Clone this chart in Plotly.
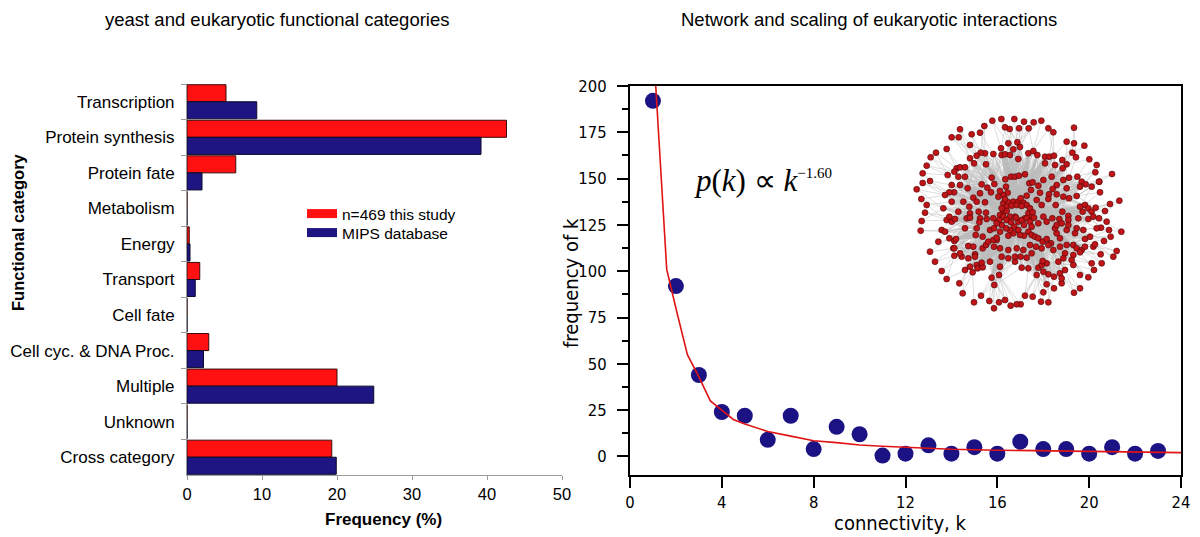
import math
import plotly.graph_objects as go

# ---- left panel: functional categories ----
categories = ["Transcription", "Protein synthesis", "Protein fate", "Metabolism", "Energy",
              "Transport", "Cell fate", "Cell cyc. & DNA Proc.", "Multiple", "Unknown",
              "Cross category"]
this_study = [5.2, 42.6, 6.5, 0, 0.3, 1.7, 0, 2.9, 20.0, 0, 19.3]
mips_db = [9.3, 39.2, 2.0, 0, 0.4, 1.1, 0, 2.2, 24.9, 0, 19.9]

# ---- right panel: degree distribution ----
k_vals = list(range(1, 24))
k_freq = [192, 92, 44, 24, 22, 9, 22, 4, 16, 12, 0.5, 1.5, 6, 1.5, 5, 1.5, 8, 4, 4, 1.5, 5, 1.5, 3]
fit_k = [1.0, 1.6, 2.0, 2.5, 3.0, 3.5, 4.0, 4.5, 5.0, 6.0, 7.0, 8.0, 9.0, 10.0, 11.0, 12.0,
         13.0, 14.0, 16.0, 18.0, 20.0, 22.0, 24.0]
fit_v = [225, 101, 80, 55, 43, 30, 25, 20, 17.5, 13.5, 11, 8.5, 7.5, 6.2, 5.5, 5.0,
         4.2, 3.9, 3.4, 3.0, 2.7, 2.4, 2.1]

# network inset, node positions (upper and lower half)
net_top = [
    (277, 47), (304, 42), (343, 42), (372, 50), (401, 52), (424, 47), (445, 70), (460, 82), (522, 68),
    (315, 67), (329, 72), (357, 70), (386, 70), (253, 63), (240, 83), (215, 88), (180, 73), (155, 97),
    (176, 97), (210, 120), (140, 132), (108, 143), (92, 157), (80, 182), (68, 205), (68, 234), (50, 253),
    (90, 228), (64, 282), (80, 300), (75, 323), (500, 110), (522, 115), (553, 122), (517, 143), (528, 157),
    (568, 163), (590, 180), (586, 202), (636, 207), (598, 230), (658, 287), (630, 297), (600, 262),
    (615, 318), (325, 115), (352, 112), (360, 126), (340, 133), (303, 130), (280, 147), (255, 145),
    (242, 143), (230, 152), (210, 160), (222, 175), (258, 178), (305, 150), (315, 148), (330, 150),
    (355, 162), (385, 145), (400, 138), (412, 150), (435, 155), (448, 155), (462, 152), (435, 175),
    (465, 180), (487, 165), (500, 178), (488, 190), (170, 190), (180, 187), (195, 187), (163, 200),
    (175, 215), (143, 210), (195, 215), (180, 240), (155, 240), (162, 262), (203, 250), (245, 238),
    (262, 248), (240, 265), (273, 262), (283, 237), (275, 218), (316, 223), (333, 215), (345, 215),
    (357, 212), (375, 208), (318, 245), (323, 263), (310, 270), (300, 258), (295, 275), (388, 235),
    (398, 232), (415, 242), (430, 225), (455, 215), (490, 225), (507, 218), (532, 215), (545, 230),
    (557, 238), (540, 245), (575, 245), (597, 230), (470, 240), (458, 252), (447, 268), (470, 268),
    (490, 275), (507, 280), (530, 273), (500, 250), (393, 255), (380, 272), (420, 263), (410, 285),
    (425, 300), (445, 282), (220, 278), (230, 290), (255, 292), (208, 305), (190, 290), (175, 320),
    (148, 262), (155, 290), (135, 270), (130, 310), (258, 323), (236, 320), (210, 325), (467, 300),
    (487, 320), (505, 333), (540, 305), (555, 300), (565, 310), (548, 320), (575, 320), (587, 308),
    (310, 295), (325, 292), (340, 290), (355, 290), (370, 293), (380, 300), (390, 310), (320, 305),
    (335, 302), (350, 300), (365, 303), (310, 320), (320, 318), (300, 330), (385, 325), (395, 335),
    (330, 335), (345, 335), (375, 340), (315, 282), (362, 280), (398, 322), (305, 310),
]
net_bottom = [
    (310, 5), (320, 15), (333, 22), (343, 35), (355, 45), (355, 20), (365, 15), (380, 10), (390, 20),
    (395, 35), (385, 50), (372, 62), (360, 60), (340, 55), (330, 45), (318, 40), (305, 30), (298, 15),
    (300, 50), (290, 75), (372, 30), (348, 8), (402, 8), (395, 60), (325, 62),
    (65, 18), (62, 47), (140, 15), (155, 20), (148, 5), (165, 12), (200, 10), (210, 8), (240, 10),
    (260, 12), (280, 10), (430, 5), (440, 20), (457, 10), (478, 12), (505, 15), (535, 10), (565, 12),
    (580, 5), (597, 10), (620, 20), (603, 38), (627, 45), (664, 50), (632, 65), (612, 78), (650, 108),
    (640, 125), (602, 118), (605, 145), (575, 145), (582, 165), (565, 187), (540, 180), (540, 220),
    (522, 233), (485, 205), (462, 220), (440, 208), (430, 232), (445, 262), (423, 260), (398, 245),
    (375, 242), (362, 268), (350, 268), (332, 272), (315, 255), (297, 262), (282, 280), (268, 258),
    (243, 242), (222, 262), (188, 235), (178, 205), (140, 192), (125, 168), (105, 140), (90, 110),
    (115, 80), (125, 45), (135, 50), (148, 70), (163, 78), (168, 72), (160, 100), (163, 122),
    (185, 125), (195, 165), (210, 155), (218, 172), (230, 150), (233, 160), (248, 157), (275, 188),
    (283, 210), (297, 180), (300, 155), (270, 140), (245, 143), (225, 118), (205, 93), (220, 95),
    (248, 100), (258, 90), (265, 80), (280, 75), (282, 95), (290, 68), (248, 65), (227, 60), (195, 40),
    (230, 40), (238, 22), (270, 45), (282, 40), (290, 25), (405, 65), (415, 70), (428, 80), (440, 72),
    (425, 100), (460, 105), (480, 95), (500, 90), (520, 90), (530, 100), (545, 105), (555, 95),
    (540, 112), (520, 120), (515, 135), (520, 150), (495, 165), (480, 175), (485, 190), (462, 185),
    (445, 178), (430, 170), (415, 158), (410, 180), (385, 160), (365, 158), (345, 140), (325, 130),
    (345, 125), (362, 125), (380, 128), (395, 115), (370, 105), (350, 100), (325, 105), (305, 125),
    (300, 100), (225, 125), (205, 130), (180, 115), (163, 100), (475, 140), (495, 115), (490, 130),
    (440, 145), (425, 150), (428, 138), (408, 95), (390, 90), (580, 95), (585, 88), (555, 72),
    (570, 65), (525, 55), (500, 45), (470, 55), (480, 70), (453, 85), (445, 90), (465, 40), (505, 30),
    (530, 40), (550, 45), (590, 40), (415, 25), (470, 30), (485, 25),
]
net_nodes = net_top + [(x, y + 330) for x, y in net_bottom]

RED = "#ff1111"
BLUE = "#1e1582"
DOT = "#1b1284"
FIT = "#e01414"

# the page body adds an 8px margin, so the figure is 8px smaller and positions are shifted
W, H, OFF = 1192, 529, 8


def px(x):
    return (x - OFF) / W


def py(y):
    return 1 - (y - OFF) / H


fig = go.Figure()

# bars
fig.add_trace(go.Bar(y=categories, x=this_study, orientation="h", marker_color=RED,
                     marker_line=dict(color="#3a0a0a", width=1), showlegend=False,
                     xaxis="x", yaxis="y"))
fig.add_trace(go.Bar(y=categories, x=mips_db, orientation="h", marker_color=BLUE,
                     marker_line=dict(color="#0a0a2a", width=1), showlegend=False,
                     xaxis="x", yaxis="y"))
# legend swatches (one legend per entry, to keep the reference's tight spacing)
fig.add_trace(go.Scatter(x=[None], y=[None], mode="lines", name="n=469 this study",
                         line=dict(color=RED, width=9), xaxis="x", yaxis="y", legend="legend"))
fig.add_trace(go.Scatter(x=[None], y=[None], mode="lines", name="MIPS database",
                         line=dict(color=BLUE, width=9), xaxis="x", yaxis="y", legend="legend2"))

# network edges: each node linked to its nearest neighbours lying closer to the centre
cx, cy = 355, 335
radius = [math.hypot(x - cx, y - cy) for x, y in net_nodes]
ex, ey = [], []
for i, (xi, yi) in enumerate(net_nodes):
    cand = [j for j in range(len(net_nodes)) if radius[j] < 0.8 * radius[i]]
    cand.sort(key=lambda j: (net_nodes[j][0] - xi) ** 2 + (net_nodes[j][1] - yi) ** 2)
    n_links = 2 if radius[i] > 230 else 6
    for j in cand[:n_links]:
        ex += [xi, net_nodes[j][0], None]
        ey += [yi, net_nodes[j][1], None]
    # a few long chords through the middle
    if radius[i] < 230:
        far = sorted(range(len(net_nodes)), key=lambda j: -((net_nodes[j][0] - xi) ** 2 + (net_nodes[j][1] - yi) ** 2))
        for j in [f for f in far if radius[f] < 200][:3]:
            ex += [xi, net_nodes[j][0], None]
            ey += [yi, net_nodes[j][1], None]
fig.add_trace(go.Scatter(x=ex, y=ey, mode="lines", line=dict(color="#bcbcbc", width=0.5),
                         hoverinfo="skip", showlegend=False, xaxis="x3", yaxis="y3"))
fig.add_trace(go.Scatter(x=[p[0] for p in net_nodes], y=[p[1] for p in net_nodes], mode="markers",
                         marker=dict(size=6, color="#bf1418", line=dict(color="#4a0505", width=0.6)),
                         hoverinfo="skip", showlegend=False, xaxis="x3", yaxis="y3"))

# scaling plot
fig.add_trace(go.Scatter(x=k_vals, y=k_freq, mode="markers", marker=dict(size=16, color=DOT),
                         showlegend=False, xaxis="x2", yaxis="y2"))
fig.add_trace(go.Scatter(x=fit_k, y=fit_v, mode="lines", line=dict(color=FIT, width=1.6),
                         showlegend=False, xaxis="x2", yaxis="y2"))

cond = "DejaVu Sans Condensed, Liberation Sans Narrow, Arial"
arial = "Liberation Sans, Arial"


def label(text, x, y, size, family=arial, angle=0):
    return dict(text=text, x=px(x), y=py(y), xref="paper", yref="paper", xanchor="center",
                yanchor="middle", textangle=angle, showarrow=False,
                font=dict(family=family, size=size))


legend_style = dict(xanchor="left", yanchor="middle", font=dict(size=15.5),
                    bgcolor="rgba(0,0,0,0)", borderwidth=0)

fig.update_layout(
    width=W, height=H,
    margin=dict(l=0, r=0, t=0, b=0, autoexpand=False),
    paper_bgcolor="white", plot_bgcolor="white",
    font=dict(family=arial, color="black"),
    barmode="group", bargap=0.04, bargroupgap=0,
    legend=dict(x=px(302), y=py(214), **legend_style),
    legend2=dict(x=px(302), y=py(233), **legend_style),
    xaxis=dict(domain=[px(187), px(562)], range=[0, 50], dtick=10, showgrid=False,
               zeroline=False, showline=True, linecolor="#9a9a9a", linewidth=1,
               ticks="outside", ticklen=4, tickcolor="#9a9a9a", tickfont=dict(size=16.5),
               anchor="y", automargin=False),
    yaxis=dict(domain=[py(475), py(84)], autorange="reversed", showgrid=False,
               showline=True, linecolor="#9a9a9a", linewidth=1, ticks="outside",
               tickson="boundaries", ticklen=5, tickcolor="#9a9a9a", tickfont=dict(size=17),
               ticklabelstandoff=8, anchor="x", automargin=False),
    xaxis2=dict(domain=[px(630), px(1181)], range=[0, 24], dtick=4, showgrid=False,
                zeroline=False, showline=True, mirror=True, linecolor="black", linewidth=2,
                ticks="outside", ticklen=11, tickwidth=2, tickcolor="black",
                tickfont=dict(family=cond, size=16.5), anchor="y2", automargin=False),
    yaxis2=dict(domain=[py(475), py(86)], range=[-10, 200], dtick=25, tick0=0,
                showgrid=False, zeroline=False, showline=True, mirror=True, linecolor="black",
                linewidth=2, ticks="outside", ticklen=11, tickwidth=1.5, tickcolor="black",
                minor=dict(dtick=12.5, tick0=0, ticks="outside", ticklen=6, tickcolor="black"),
                tickfont=dict(family=cond, size=16.5), ticklabelstandoff=7,
                anchor="x2", automargin=False),
    xaxis3=dict(domain=[px(900), px(1140)], range=[0, 720], visible=False, anchor="y3"),
    yaxis3=dict(domain=[py(335), py(105)], range=[690, 0], visible=False, anchor="x3"),
    annotations=[
        label("yeast and eukaryotic functional categories", 277, 20, 18.5),
        label("Network and scaling of eukaryotic interactions", 869, 20, 18.5),
        label("<b>Functional category</b>", 18, 232, 16.5, angle=-90),
        label("<b>Frequency (%)</b>", 383, 519, 17),
        label("frequency of k", 571, 283, 20, family=cond, angle=-90),
        label("connectivity, k", 900, 523, 20, family=cond),
        dict(text="<i>p</i>(<i>k</i>) \u221d <i>k</i><sup><span style='font-size:15px'>\u22121.60</span></sup>",
             x=2.7, y=149, xref="x2", yref="y2", xanchor="left", showarrow=False,
             font=dict(family="Liberation Serif, Times New Roman, serif", size=31)),
    ],
)

fig.write_html("out.html")
